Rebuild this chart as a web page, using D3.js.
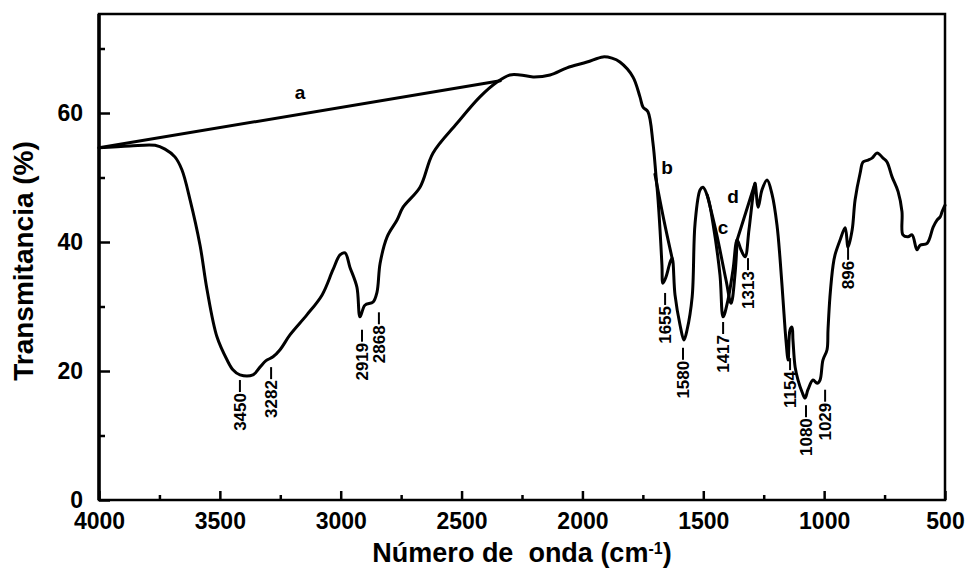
<!DOCTYPE html>
<meta charset="utf-8">
<style>
body { margin: 0; background: #fff; }
text { font-family: "Liberation Sans", Arial, sans-serif; font-weight: bold; fill: #000; }
.curve { fill: none; stroke: #000; stroke-width: 3px; stroke-linejoin: round; stroke-linecap: round; }
.axis line { stroke: #000; stroke-width: 2.5px; }
.axis path { display: none; }
</style>
<body>
<svg width="969" height="570"></svg>
<script src="https://d3js.org/d3.v7.min.js"></script>
<script>

// main spectrum
var wavenumber = [4000, 3872, 3768, 3727, 3686, 3657, 3623, 3582, 3553, 3512, 3470, 3446, 3417, 3363, 3334, 3309, 3280, 3251, 3210, 3140,
  3077, 3032, 3003, 2982, 2962, 2933, 2920, 2900, 2866, 2850, 2837, 2808, 2767, 2742, 2672, 2618, 2519, 2424, 2353, 2300,
  2258, 2204, 2134, 2064, 1981, 1915, 1878, 1845, 1791, 1762, 1749, 1729, 1708, 1696, 1687, 1679, 1671, 1667, 1654, 1637,
  1629, 1617, 1596, 1580, 1567, 1546, 1534, 1513, 1501, 1480, 1460, 1431, 1418, 1398, 1377, 1360, 1344, 1327, 1311, 1294,
  1286, 1273, 1257, 1236, 1215, 1195, 1182, 1170, 1158, 1149, 1141, 1133, 1129, 1120, 1108, 1091, 1079, 1067, 1046, 1029,
  1017, 1005, 988, 984, 976, 963, 955, 934, 913, 901, 884, 872, 851, 839, 818, 802, 781, 756, 740, 719,
  694, 678, 674, 653, 636, 616, 603, 574, 549, 533, 520, 512, 500];
var transmittance = [54.6, 54.9, 55.0, 54.4, 53.2, 51.2, 46.5, 39.5, 32.6, 25.3, 21.7, 20.2, 19.4, 19.4, 20.6, 21.6, 22.2, 23.3, 25.6, 28.7,
  31.8, 35.7, 38.0, 38.3, 36.1, 33.0, 28.4, 30.2, 30.7, 32.2, 36.7, 40.8, 43.4, 45.4, 48.5, 53.8, 58.4, 62.5, 64.8, 65.9,
  65.9, 65.6, 65.9, 67.0, 67.9, 68.7, 68.5, 67.9, 65.6, 62.5, 60.9, 60.2, 55.3, 50.4, 46.5, 41.9, 36.4, 33.6, 34.6, 36.9,
  37.5, 31.8, 27.1, 24.8, 26.4, 31.5, 42.9, 48.1, 48.5, 46.8, 42.9, 34.9, 28.4, 31.0, 35.7, 40.3, 38.8, 37.7, 41.9, 47.3,
  49.1, 45.4, 48.1, 49.6, 47.3, 42.6, 37.2, 31.0, 24.8, 21.7, 26.4, 26.8, 24.8, 20.6, 18.6, 16.7, 15.8, 17.1, 18.6, 18.1,
  18.6, 21.7, 23.3, 26.4, 31.5, 36.4, 38.0, 40.3, 42.2, 39.2, 41.9, 46.5, 50.7, 52.4, 52.7, 53.0, 53.8, 53.0, 52.4, 50.1,
  47.8, 44.7, 41.1, 40.8, 41.1, 38.8, 39.5, 39.8, 42.3, 43.4, 43.9, 44.7, 45.7];

// the other traces (a, b, c, d) where they leave the main one
var branchA_wn = [4000, 2340];
var branchA_T = [54.6, 65.0];
var branchB_wn = [1700, 1663, 1629];
var branchB_T = [50.5, 43.4, 37.5];
var branchC_wn = [1484, 1447, 1406, 1385, 1369, 1360];
var branchC_T = [47.3, 41.6, 34.1, 30.5, 34.9, 40.3];
var branchD_wn = [1360, 1286];
var branchD_T = [40.3, 49.1];

var letterNames = ["a", "b", "c", "d"];
var letterWn = [3168, 1650, 1418, 1377];
var letterT = [62.2, 50.6, 41.2, 46.0];

// peak labels: text, position, top of the leader
var peakText = ["3450", "3282", "2919", "2868", "1655", "1580", "1417", "1313", "1154", "1080", "1029", "896"];
var peakWn = [3417, 3288, 2912, 2842, 1658, 1584, 1418, 1315, 1141, 1075, 996, 901];
var peakTop = [18.6, 20.6, 26.4, 29.1, 32.1, 23.6, 27.6, 37.5, 22.0, 14.7, 17.1, 39.1];

var xTicks = [4000, 3500, 3000, 2500, 2000, 1500, 1000, 500];
var xMinor = [3750, 3250, 2750, 2250, 1750, 1250, 750];
var yTicks = [0, 20, 40, 60];
var yMinor = [10, 30, 50, 70];

var svg = d3.select("svg");
var plotLeft = 99, plotRight = 945, plotTop = 14, plotBottom = 500;

var x = d3.scaleLinear().domain([4000, 500]).range([plotLeft, plotRight]);
var y = d3.scaleLinear().domain([0, 75.35]).range([plotBottom, plotTop]);

// axes, ticks pointing inwards
svg.append("g").attr("class", "axis")
    .attr("transform", "translate(0," + plotBottom + ")")
    .call(d3.axisBottom(x).tickValues(xTicks).tickSize(-9).tickPadding(13).tickFormat(d3.format("d")))
    .selectAll("text").style("font-size", "23px");
svg.append("g").attr("class", "axis")
    .attr("transform", "translate(0," + plotBottom + ")")
    .call(d3.axisBottom(x).tickValues(xMinor).tickSize(-5).tickFormat(""));
svg.append("g").attr("class", "axis")
    .attr("transform", "translate(" + plotLeft + ",0)")
    .call(d3.axisLeft(y).tickValues(yTicks).tickSize(-11).tickPadding(16).tickFormat(d3.format("d")))
    .selectAll("text").style("font-size", "23px");
svg.append("g").attr("class", "axis")
    .attr("transform", "translate(" + plotLeft + ",0)")
    .call(d3.axisLeft(y).tickValues(yMinor).tickSize(-6).tickFormat(""));

svg.append("rect")
    .attr("x", plotLeft).attr("y", plotTop)
    .attr("width", plotRight - plotLeft).attr("height", plotBottom - plotTop)
    .attr("fill", "none").attr("stroke", "#000").attr("stroke-width", 2.5);
svg.append("line")
    .attr("x1", plotLeft).attr("x2", plotLeft).attr("y1", plotTop).attr("y2", plotBottom)
    .attr("stroke", "#000").attr("stroke-width", 3.5);

var line = d3.line()
    .x(function(d) { return x(d[0]); })
    .y(function(d) { return y(d[1]); })
    .curve(d3.curveCatmullRom.alpha(0.5));

function pairs(a, b) { return a.map(function(v, i) { return [v, b[i]]; }); }

var traces = [
  pairs(wavenumber, transmittance),
  pairs(branchA_wn, branchA_T),
  pairs(branchB_wn, branchB_T),
  pairs(branchC_wn, branchC_T),
  pairs(branchD_wn, branchD_T)
];

svg.append("g").selectAll("path")
  .data(traces)
  .enter().append("path")
    .attr("class", "curve")
    .attr("d", line);

svg.append("g").selectAll("text")
  .data(letterNames)
  .enter().append("text")
    .attr("x", function(d, i) { return x(letterWn[i]); })
    .attr("y", function(d, i) { return y(letterT[i]); })
    .attr("text-anchor", "middle")
    .style("font-size", "19px")
    .text(function(d) { return d; });

var peaks = svg.append("g").selectAll("g")
  .data(peakText)
  .enter().append("g")
    .attr("transform", function(d, i) { return "translate(" + x(peakWn[i]) + "," + y(peakTop[i]) + ")"; });

peaks.append("line")
    .attr("x1", 0).attr("x2", 0).attr("y1", 0).attr("y2", 12)
    .attr("stroke", "#000").attr("stroke-width", 2);

peaks.append("text")
    .attr("transform", "translate(0,13) rotate(-90)")
    .attr("text-anchor", "end")
    .attr("dy", "0.36em")
    .style("font-size", "17px")
    .text(function(d) { return d; });

// axis titles
var xt = svg.append("text")
    .attr("x", (plotLeft + plotRight) / 2).attr("y", 562)
    .attr("text-anchor", "middle")
    .style("font-size", "27px")
    .style("white-space", "pre");
xt.append("tspan").text("Número de  onda (cm");
xt.append("tspan").attr("baseline-shift", "super").style("font-size", "16px").text("-1");
xt.append("tspan").text(")");

svg.append("text")
    .attr("transform", "translate(33,261) rotate(-90)")
    .attr("text-anchor", "middle")
    .style("font-size", "28px")
    .text("Transmitancia (%)");

</script>
